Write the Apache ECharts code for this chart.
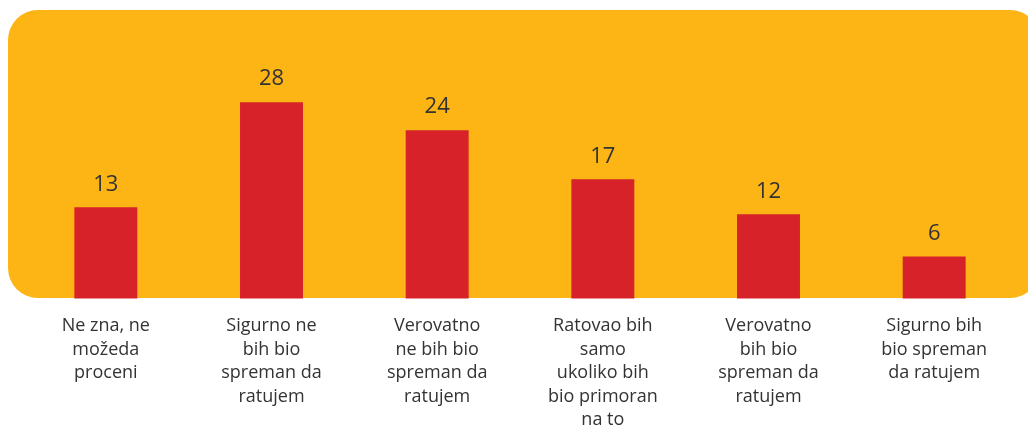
<!DOCTYPE html>
<html>
<head>
<meta charset="utf-8">
<script src="https://cdn.jsdelivr.net/npm/echarts@6/dist/echarts.min.js"></script>
<style>
  html, body { margin: 0; padding: 0; background: #fff; }
  #chart { width: 1028px; height: 432px; }
</style>
</head>
<body>
<div id="chart"></div>
<script>
const categories = [
  "Ne zna, ne\nmožeda\nproceni",
  "Sigurno ne\nbih bio\nspreman da\nratujem",
  "Verovatno\nne bih bio\nspreman da\nratujem",
  "Ratovao bih\nsamo\nukoliko bih\nbio primoran\nna to",
  "Verovatno\nbih bio\nspreman da\nratujem",
  "Sigurno bih\nbio spreman\nda ratujem"
];
const values = [13, 28, 24, 17, 12, 6];

const chart = echarts.init(document.getElementById("chart"));
const font = "'Open Sans', sans-serif";

chart.setOption({
  animation: false,
  graphic: [
    {
      type: "rect",
      z: -10,
      shape: { x: 8, y: 10, width: 1032, height: 288, r: 30 },
      style: { fill: "#FDB515" }
    }
  ],
  grid: { left: 23, right: 11, top: 18, bottom: 130 },
  xAxis: {
    type: "category",
    data: categories,
    axisLine: { show: false },
    axisTick: { show: false },
    axisLabel: {
      interval: 0,
      color: "#333333",
      fontSize: 18,
      fontWeight: 500,
      lineHeight: 23.5,
      margin: 16,
      fontFamily: font
    }
  },
  yAxis: {
    type: "value",
    min: 0,
    max: 40,
    show: false,
    splitLine: { show: false }
  },
  series: [
    {
      type: "bar",
      data: values,
      barWidth: "38%",
      itemStyle: { color: "#D7222A" },
      label: {
        show: true,
        position: "top",
        distance: 12,
        color: "#333333",
        fontSize: 22,
        fontWeight: 500,
        fontFamily: font
      }
    }
  ]
});
</script>
</body>
</html>
